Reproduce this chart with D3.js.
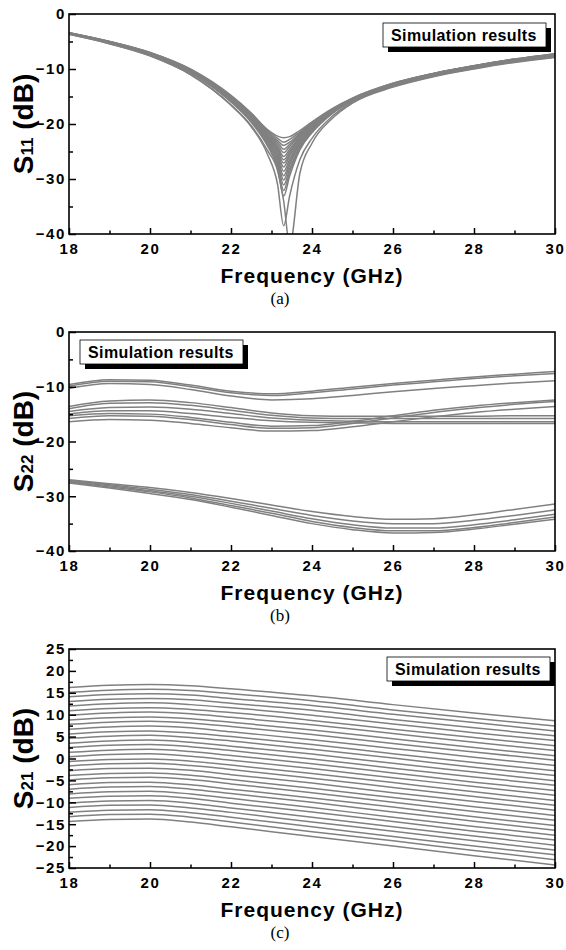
<!DOCTYPE html>
<html>
<head>
<meta charset="utf-8">
<script src="https://cdn.jsdelivr.net/npm/d3@7"></script>
<style>
  html, body { margin: 0; padding: 0; background: #fff; }
  svg { display: block; }
  .tick text { font-family: "Liberation Sans", Arial, sans-serif; font-weight: bold; font-size: 15px; fill: #000; }
</style>
</head>
<body>
<svg id="chart" width="566" height="950"></svg>
<script>
// ---------------- DATA ----------------
const xTicks = [18, 20, 22, 24, 26, 28, 30];
const xMinorTicks = [19, 21, 23, 25, 27, 29];
const yTicksAB = [0, -10, -20, -30, -40];
const yMinorAB = [-5, -15, -25, -35];
const yTicksC = [25, 20, 15, 10, 5, 0, -5, -10, -15, -20, -25];
const yMinorC = [22.5, 17.5, 12.5, 7.5, 2.5, -2.5, -7.5, -12.5, -17.5, -22.5];
const legendText = "Simulation results";
const xTitle = "Frequency (GHz)";
const panelLabels = ["(a)", "(b)", "(c)"];

// (a) S11
const freqA = [18, 19, 20, 21, 22, 22.5, 22.9, 23.15, 23.3, 23.45, 23.7, 24, 24.5, 25, 26, 27, 28, 29, 30];
const s11Series = [
  [-3.4,-5.0,-7.0,-10.0,-14.8,-18.0,-21.0,-22.2,-22.5,-22.3,-21.2,-19.6,-17.2,-15.3,-12.6,-10.8,-9.4,-8.2,-7.2],
  [-3.4,-5.0,-7.0,-10.1,-14.9,-18.1,-21.2,-22.6,-23.3,-22.8,-21.5,-19.8,-17.3,-15.3,-12.6,-10.8,-9.4,-8.2,-7.2],
  [-3.4,-5.0,-7.1,-10.1,-15.0,-18.2,-21.4,-23.0,-23.9,-23.3,-21.7,-19.9,-17.3,-15.4,-12.7,-10.8,-9.4,-8.2,-7.3],
  [-3.4,-5.1,-7.1,-10.1,-15.0,-18.3,-21.6,-23.3,-24.6,-23.7,-21.9,-20.0,-17.4,-15.4,-12.7,-10.9,-9.5,-8.3,-7.3],
  [-3.5,-5.1,-7.1,-10.2,-15.1,-18.4,-21.8,-23.7,-25.2,-24.1,-22.1,-20.1,-17.4,-15.4,-12.7,-10.9,-9.5,-8.3,-7.3],
  [-3.5,-5.1,-7.1,-10.2,-15.2,-18.5,-22.0,-24.1,-25.9,-24.6,-22.3,-20.2,-17.5,-15.5,-12.7,-10.9,-9.5,-8.3,-7.3],
  [-3.5,-5.1,-7.2,-10.3,-15.3,-18.6,-22.1,-24.4,-26.5,-25.0,-22.5,-20.4,-17.6,-15.5,-12.8,-10.9,-9.5,-8.3,-7.4],
  [-3.5,-5.1,-7.2,-10.3,-15.3,-18.7,-22.3,-24.8,-27.1,-25.4,-22.7,-20.5,-17.6,-15.5,-12.8,-11.0,-9.6,-8.4,-7.4],
  [-3.5,-5.1,-7.2,-10.3,-15.4,-18.8,-22.5,-25.1,-27.8,-25.8,-23.0,-20.6,-17.7,-15.5,-12.8,-11.0,-9.6,-8.4,-7.4],
  [-3.5,-5.2,-7.2,-10.4,-15.5,-19.0,-22.7,-25.5,-28.6,-26.4,-23.2,-20.7,-17.7,-15.6,-12.8,-11.0,-9.6,-8.4,-7.4],
  [-3.5,-5.2,-7.3,-10.4,-15.6,-19.1,-22.9,-26.0,-29.4,-26.9,-23.5,-20.9,-17.8,-15.6,-12.9,-11.0,-9.6,-8.4,-7.5],
  [-3.5,-5.2,-7.3,-10.5,-15.7,-19.2,-23.2,-26.4,-30.2,-27.4,-23.7,-21.0,-17.9,-15.6,-12.9,-11.0,-9.6,-8.4,-7.5],
  [-3.6,-5.2,-7.3,-10.5,-15.8,-19.4,-23.4,-26.9,-31.1,-28.1,-24.1,-21.2,-18.0,-15.7,-12.9,-11.1,-9.7,-8.5,-7.5],
  [-3.6,-5.2,-7.4,-10.6,-15.9,-19.5,-23.7,-27.5,-32.1,-28.7,-24.4,-21.4,-18.0,-15.7,-13.0,-11.1,-9.7,-8.5,-7.6],
  [-3.6,-5.3,-7.4,-10.7,-16.0,-19.7,-24.0,-28.0,-33.1,-29.4,-24.7,-21.6,-18.1,-15.8,-13.0,-11.1,-9.7,-8.5,-7.6],
  [-3.7,-5.4,-7.6,-11.0,-16.6,-20.5,-25.5,-31.0,-38.5,-33.0,-26.5,-22.6,-18.6,-16.0,-13.2,-11.3,-9.9,-8.7,-7.8],
  [-3.7,-5.4,-7.6,-11.0,-16.5,-20.3,-24.8,-28.5,-34.0,-42.0,-29.0,-23.5,-19.0,-16.2,-13.3,-11.4,-10.0,-8.8,-7.9]
];

// (b) S22
const freqB = [18, 19, 20, 21, 22, 23, 24, 25, 26, 27, 28, 29, 30];
const s22Series = [
  [-9.6,-8.7,-8.8,-9.7,-10.8,-11.3,-10.8,-10.1,-9.4,-8.8,-8.2,-7.7,-7.2],
  [-9.9,-9.0,-9.1,-10.0,-11.1,-11.6,-11.1,-10.4,-9.7,-9.1,-8.5,-8.0,-7.6],
  [-10.3,-9.4,-9.6,-10.5,-11.7,-12.4,-12.2,-11.6,-10.9,-10.3,-9.8,-9.3,-8.9],
  [-13.6,-12.6,-12.4,-12.9,-13.8,-14.8,-15.3,-15.4,-15.4,-15.4,-15.4,-15.3,-15.3],
  [-14.0,-13.0,-12.9,-13.4,-14.3,-15.2,-15.7,-15.8,-15.8,-15.8,-15.8,-15.8,-15.8],
  [-14.5,-13.8,-13.7,-14.1,-14.9,-15.7,-16.1,-16.3,-16.4,-16.4,-16.4,-16.4,-16.4],
  [-15.0,-14.4,-14.4,-14.9,-15.6,-16.2,-16.5,-16.6,-16.7,-16.7,-16.7,-16.7,-16.7],
  [-15.3,-14.9,-15.0,-15.6,-16.5,-17.2,-17.1,-16.3,-15.3,-14.3,-13.5,-12.9,-12.4],
  [-15.8,-15.3,-15.4,-16.0,-16.9,-17.6,-17.5,-16.7,-15.7,-14.7,-13.9,-13.2,-12.7],
  [-16.4,-16.0,-16.1,-16.7,-17.5,-18.1,-18.0,-17.3,-16.4,-15.5,-14.7,-14.1,-13.6],
  [-27.0,-27.7,-28.4,-29.3,-30.4,-31.6,-32.8,-33.7,-34.2,-34.1,-33.4,-32.4,-31.4],
  [-27.1,-27.9,-28.7,-29.7,-30.9,-32.2,-33.5,-34.5,-35.0,-35.0,-34.4,-33.5,-32.5],
  [-27.3,-28.1,-29.0,-30.0,-31.3,-32.7,-34.1,-35.2,-35.8,-35.8,-35.2,-34.3,-33.3],
  [-27.4,-28.3,-29.2,-30.3,-31.7,-33.1,-34.6,-35.7,-36.3,-36.3,-35.7,-34.8,-33.8],
  [-27.6,-28.5,-29.5,-30.6,-32.0,-33.5,-35.0,-36.1,-36.7,-36.6,-36.0,-35.1,-34.2]
];

// (c) S21
const freqC = [18, 19, 20, 21, 22, 24, 26, 28, 30];
const s21Series = [
  [16.2,16.7,16.9,16.6,15.9,14.3,12.3,10.4,8.6],
  [15.1,15.6,15.8,15.5,14.8,13.2,11.1,9.2,7.4],
  [14.1,14.6,14.8,14.5,13.7,12.1,10.1,8.2,6.3],
  [13.0,13.5,13.7,13.4,12.6,11.0,8.9,7.0,5.2],
  [12.0,12.5,12.7,12.3,11.6,9.9,7.9,5.9,4.1],
  [10.9,11.4,11.6,11.2,10.5,8.7,6.7,4.8,2.9],
  [9.9,10.4,10.6,10.2,9.4,7.7,5.7,3.7,1.8],
  [8.8,9.3,9.5,9.1,8.3,6.5,4.5,2.5,0.6],
  [7.8,8.3,8.5,8.1,7.3,5.5,3.4,1.5,-0.4],
  [6.7,7.2,7.4,7.0,6.1,4.3,2.3,0.3,-1.6],
  [5.6,6.1,6.3,5.8,5.0,3.2,1.1,-0.9,-2.8],
  [4.6,5.1,5.3,4.8,4.0,2.1,0.1,-2.0,-3.9],
  [3.5,4.0,4.2,3.7,2.8,1.0,-1.1,-3.1,-5.1],
  [2.5,3.0,3.2,2.7,1.8,-0.1,-2.2,-4.2,-6.1],
  [1.4,1.9,2.1,1.6,0.7,-1.2,-3.3,-5.4,-7.3],
  [0.4,0.9,1.1,0.5,-0.4,-2.3,-4.4,-6.4,-8.4],
  [-0.7,-0.2,-0.1,-0.6,-1.5,-3.4,-5.5,-7.6,-9.6],
  [-1.7,-1.2,-1.1,-1.6,-2.5,-4.5,-6.6,-8.7,-10.7],
  [-2.8,-2.3,-2.2,-2.7,-3.7,-5.6,-7.8,-9.8,-11.8],
  [-3.9,-3.4,-3.3,-3.8,-4.8,-6.8,-8.9,-11.0,-13.0],
  [-4.9,-4.4,-4.3,-4.8,-5.8,-7.8,-10.0,-12.1,-14.1],
  [-6.0,-5.5,-5.4,-6.0,-7.0,-9.0,-11.1,-13.3,-15.3],
  [-7.0,-6.5,-6.4,-7.0,-8.0,-10.0,-12.2,-14.3,-16.4],
  [-8.1,-7.6,-7.5,-8.1,-9.1,-11.2,-13.4,-15.5,-17.5],
  [-9.1,-8.6,-8.5,-9.1,-10.2,-12.2,-14.4,-16.6,-18.6],
  [-10.2,-9.7,-9.6,-10.2,-11.3,-13.4,-15.6,-17.7,-19.8],
  [-11.2,-10.7,-10.6,-11.3,-12.3,-14.5,-16.6,-18.8,-20.9],
  [-12.3,-11.8,-11.7,-12.4,-13.4,-15.6,-17.8,-20.0,-22.0],
  [-13.3,-12.8,-12.7,-13.4,-14.5,-16.7,-18.8,-21.0,-23.1],
  [-14.4,-13.9,-13.8,-14.5,-15.6,-17.8,-20.0,-22.2,-24.3]
];

// ---------------- DRAW ----------------
const svg = d3.select("#chart");
const left = 69, right = 555;
const x = d3.scaleLinear().domain([18, 30]).range([left, right]);
const FONT = '"Liberation Sans", Arial, sans-serif';

const panels = [
  { top: 14, bottom: 234, domain: [-40, 0], ticks: yTicksAB, minor: yMinorAB, freq: freqA, series: s11Series,
    sub: "11", legend: [383, 23], label: panelLabels[0], off: 0 },
  { top: 332, bottom: 551, domain: [-40, 0], ticks: yTicksAB, minor: yMinorAB, freq: freqB, series: s22Series,
    sub: "22", legend: [80, 340], label: panelLabels[1], off: 317 },
  { top: 649, bottom: 868, domain: [-25, 25], ticks: yTicksC, minor: yMinorC, freq: freqC, series: s21Series,
    sub: "21", legend: [387, 657], label: panelLabels[2], off: 634 }
];

panels.forEach((p, pi) => {
  const y = d3.scaleLinear().domain(p.domain).range([p.bottom, p.top]);
  const g = svg.append("g");

  const clipId = "clip" + pi;
  svg.append("clipPath").attr("id", clipId)
    .append("rect").attr("x", left).attr("y", p.top)
    .attr("width", right - left).attr("height", p.bottom - p.top);

  const line = d3.line()
    .x((d, i) => x(p.freq[i]))
    .y(d => y(d))
    .curve(d3.curveMonotoneX);

  g.append("g").attr("clip-path", `url(#${clipId})`)
    .selectAll("path").data(p.series).join("path")
    .attr("d", line)
    .attr("fill", "none")
    .attr("stroke", "#808080")
    .attr("stroke-width", 1.5);

  // axes
  const xAxis = d3.axisBottom(x).tickValues(xTicks).tickSize(-6).tickPadding(9).tickFormat(d3.format("d"));
  const xMinor = d3.axisBottom(x).tickValues(xMinorTicks).tickSize(-3.5).tickFormat("");
  const yAxis = d3.axisLeft(y).tickValues(p.ticks).tickSize(-7).tickPadding(3).tickFormat(d3.format("d"));
  const yMinor = d3.axisLeft(y).tickValues(p.minor).tickSize(-4).tickFormat("");

  [xAxis, xMinor].forEach(ax => {
    const a = g.append("g").attr("transform", `translate(0,${p.bottom})`).call(ax);
    a.select(".domain").remove();
    a.selectAll("line").attr("stroke", "#000").attr("stroke-width", 1.5);
  });
  [yAxis, yMinor].forEach(ax => {
    const a = g.append("g").attr("transform", `translate(${left},0)`).call(ax);
    a.select(".domain").remove();
    a.selectAll("line").attr("stroke", "#000").attr("stroke-width", 1.5);
  });
  g.selectAll(".tick text").style("letter-spacing", "1.6px");

  // frame
  g.append("rect").attr("x", left).attr("y", p.top)
    .attr("width", right - left).attr("height", p.bottom - p.top)
    .attr("fill", "none").attr("stroke", "#000").attr("stroke-width", 1.6);

  // legend
  const [lx, ly] = p.legend;
  g.append("rect").attr("x", lx + 5).attr("y", ly + 5).attr("width", 163).attr("height", 24).attr("fill", "#000");
  g.append("rect").attr("x", lx).attr("y", ly).attr("width", 163).attr("height", 24)
    .attr("fill", "#fff").attr("stroke", "#000").attr("stroke-width", 0.8);
  g.append("text").attr("x", lx + 8).attr("y", ly + 18)
    .attr("font-family", FONT).attr("font-weight", "bold").attr("font-size", 16)
    .style("letter-spacing", "0.4px")
    .text(legendText);

  // x title
  g.append("text").attr("x", (left + right) / 2).attr("y", 283 + p.off)
    .attr("text-anchor", "middle")
    .attr("font-family", FONT).attr("font-weight", "bold").attr("font-size", 21)
    .style("letter-spacing", "1px")
    .text(xTitle);

  // y title
  const cy = (p.top + p.bottom) / 2;
  const yt = g.append("text")
    .attr("transform", `translate(33,${cy}) rotate(-90)`)
    .attr("text-anchor", "middle")
    .attr("font-family", FONT).attr("font-weight", "bold").attr("font-size", 28);
  yt.append("tspan").text("S");
  yt.append("tspan").attr("font-size", 17).text(p.sub);
  yt.append("tspan").text(" (dB)");

  // panel label
  g.append("text").attr("x", 280).attr("y", 304 + p.off)
    .attr("text-anchor", "middle")
    .attr("font-family", '"Liberation Serif", "Times New Roman", serif').attr("font-size", 17)
    .text(p.label);
});
</script>
</body>
</html>
